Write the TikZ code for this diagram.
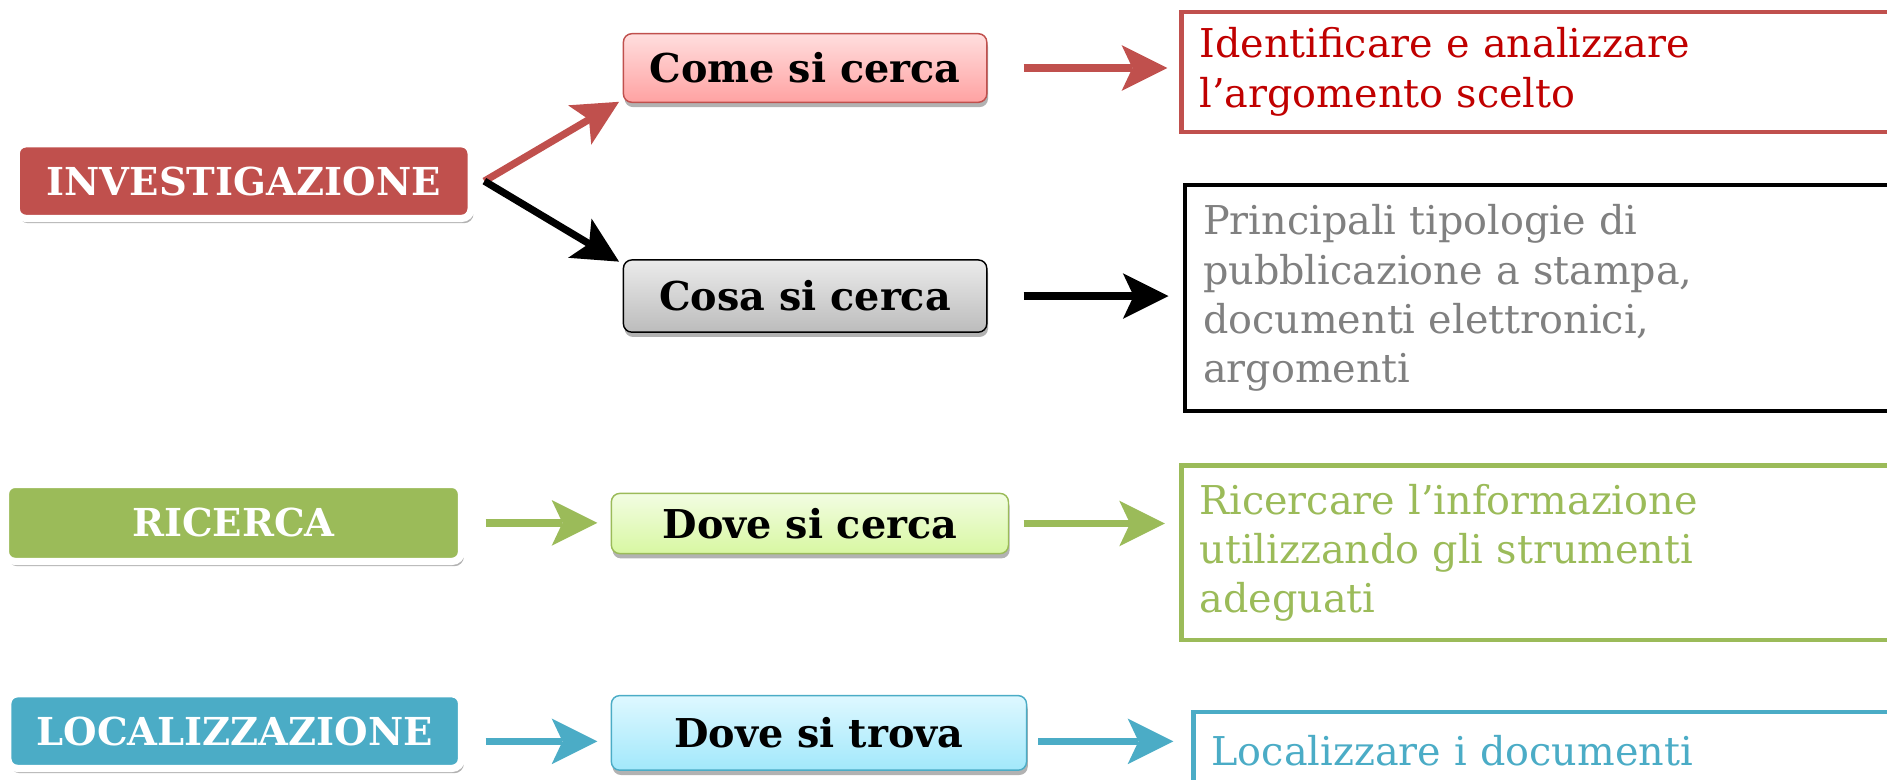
\documentclass[tikz,border=0pt]{standalone}
\usepackage{fontspec}
\newfontfamily\boxfont{DejaVu Serif}
\newfontfamily\notefont{DejaVu Serif}
\usetikzlibrary{arrows.meta, shadows}

\definecolor{accred}{HTML}{C0504D}
\definecolor{accgreen}{HTML}{9BBB59}
\definecolor{accblue}{HTML}{4BACC6}
\definecolor{notered}{HTML}{C00000}
\definecolor{notegray}{HTML}{808080}
\definecolor{cometop}{HTML}{FFDEDE}
\definecolor{comebot}{HTML}{FFA2A2}
\definecolor{cosatop}{HTML}{EBEBEB}
\definecolor{cosabot}{HTML}{BCBCBC}
\definecolor{dovectop}{HTML}{F2FDE2}
\definecolor{dovecbot}{HTML}{D8F7A2}
\definecolor{dovettop}{HTML}{DEF8FF}
\definecolor{dovetbot}{HTML}{A2E8FB}

\begin{document}
\begin{tikzpicture}[x=1pt, y=1pt,
            phase/.style={draw=white, line width=6pt, rounded corners=8pt, text=white, font={\boxfont\bfseries\fontsize{32}{38}\selectfont},
                drop shadow={shadow xshift=2pt, shadow yshift=-4pt, opacity=0.3, fill=black}},
            query/.style={line width=1.2pt, rounded corners=7pt, font={\boxfont\bfseries\fontsize{33}{38}\selectfont},
                drop shadow={shadow xshift=1pt, shadow yshift=-4pt, opacity=0.3, fill=black}},
            note/.style={line width=3.5pt, anchor=north west, align=left, text width=600pt, inner xsep=15pt,
                font={\notefont\fontsize{33}{41}\selectfont}},
            arr/.style={line width=6pt, -{Stealth[length=38pt, width=38pt, inset=9pt, line width=0pt]}}]

            \useasboundingbox (0,0) rectangle (1568,-648);
            \clip (0,0) rectangle (1568,-648);

            % Phases on the left
            \node[phase, fill=accred, minimum width=378pt, minimum height=62pt] (inv) at (202.5,-150.5) {INVESTIGAZIONE};
            \node[phase, fill=accgreen, minimum width=379pt, minimum height=64pt] (ric) at (194,-434.5) {RICERCA};
            \node[phase, fill=accblue, minimum width=377pt, minimum height=62pt] (loc) at (195,-607.5) {LOCALIZZAZIONE};

            % Questions in the middle
            \node[query, draw=accred, top color=cometop, bottom color=comebot, minimum width=302pt, minimum height=57pt] (come) at (669,-56.5) {Come si cerca};
            \node[query, draw=black, top color=cosatop, bottom color=cosabot, minimum width=302pt, minimum height=60pt] (cosa) at (669,-246) {Cosa si cerca};
            \node[query, draw=accgreen, top color=dovectop, bottom color=dovecbot, minimum width=330pt, minimum height=50pt] (dovec) at (673,-435) {Dove si cerca};
            \node[query, draw=accblue, top color=dovettop, bottom color=dovetbot, minimum width=345pt, minimum height=62pt] (dovet) at (680.5,-609) {Dove si trova};

            % Notes on the right, cut by the page edge
            \node[note, draw=accred, text=notered, minimum height=100pt] (idea) at (980,-8) {Identificare e analizzare\\l’argomento scelto};
            \node[note, draw=black, text=notegray, minimum height=188pt] (tipi) at (983,-152) {Principali tipologie di\\pubblicazione a stampa,\\documenti elettronici,\\argomenti};
            \node[note, draw=accgreen, text=accgreen, minimum height=145pt] (stru) at (980,-385) {Ricercare l’informazione\\utilizzando gli strumenti\\adeguati};
            \node[note, draw=accblue, text=accblue, minimum height=64pt] (docs) at (990,-590) {Localizzare i documenti};

            % Arrows
            \draw[arr, accred] ([xshift=8pt]inv.east) -- ([shift={(-3pt,1pt)}]come.south west);
            \draw[arr, black] ([xshift=8pt]inv.east) -- ([shift={(-3pt,-2pt)}]cosa.north west);
            \draw[arr, accred, shorten <=30pt, shorten >=10pt] (come.east) -- (come.east -| idea.west);
            \draw[arr, black, shorten <=30pt, shorten >=12pt] (cosa.east) -- (cosa.east -| tipi.west);
            \draw[arr, accgreen, shorten <=17pt, shorten >=11pt] (ric.east) -- (ric.east -| dovec.west);
            \draw[arr, accgreen, shorten <=12pt, shorten >=12pt] (dovec.east) -- (dovec.east -| stru.west);
            \draw[arr, accblue, shorten <=17pt, shorten >=11pt] ([yshift=-8.5pt]loc.east) -- ([yshift=-8.5pt]loc.east -| dovet.west);
            \draw[arr, accblue, shorten <=9pt, shorten >=15pt] ([yshift=-7pt]dovet.east) -- ([yshift=-7pt]dovet.east -| docs.west);
\end{tikzpicture}
\end{document}
